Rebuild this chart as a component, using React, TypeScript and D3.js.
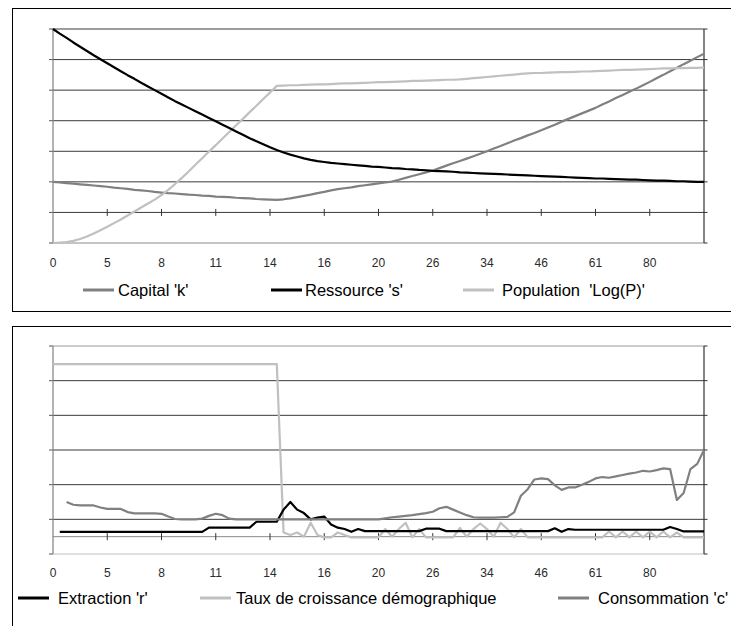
import * as d3 from "d3";

// category labels shown every 8th step (97 steps, 0..96)
const xLabels = ["0", "5", "8", "11", "14", "16", "20", "26", "34", "46", "61", "80"];
const steps = 96;
const labelEvery = 8;

// ── top chart (grid units) ──────────────────────────────────────────────
const capital = [
  1.00, 0.98, 0.96, 0.94, 0.92, 0.90, 0.88, 0.86, 0.84, 0.81,
  0.79, 0.77, 0.74, 0.72, 0.70, 0.67, 0.65, 0.63, 0.62, 0.60,
  0.58, 0.57, 0.55, 0.54, 0.52, 0.51, 0.50, 0.48, 0.47, 0.46,
  0.44, 0.43, 0.42, 0.41, 0.43, 0.46, 0.50, 0.54, 0.58, 0.63,
  0.67, 0.72, 0.76, 0.79, 0.82, 0.86, 0.89, 0.92, 0.95, 0.98,
  1.01, 1.07, 1.13, 1.19, 1.25, 1.31, 1.37, 1.45, 1.53, 1.61,
  1.68, 1.76, 1.84, 1.92, 2.00, 2.09, 2.17, 2.26, 2.35, 2.43,
  2.52, 2.60, 2.69, 2.78, 2.87, 2.97, 3.06, 3.15, 3.24, 3.33,
  3.42, 3.53, 3.63, 3.74, 3.84, 3.95, 4.05, 4.16, 4.27, 4.39,
  4.50, 4.62, 4.73, 4.85, 4.96, 5.08, 5.19,
];
const ressource = [
  6.00, 5.85, 5.71, 5.56, 5.42, 5.28, 5.14, 5.01, 4.88, 4.75,
  4.62, 4.49, 4.37, 4.24, 4.12, 4.00, 3.88, 3.76, 3.64, 3.53,
  3.42, 3.31, 3.20, 3.09, 2.98, 2.87, 2.76, 2.65, 2.54, 2.43,
  2.33, 2.23, 2.13, 2.04, 1.96, 1.89, 1.83, 1.77, 1.72, 1.68,
  1.65, 1.62, 1.60, 1.58, 1.56, 1.54, 1.52, 1.50, 1.49, 1.47,
  1.45, 1.44, 1.42, 1.41, 1.39, 1.38, 1.36, 1.35, 1.34, 1.33,
  1.31, 1.30, 1.29, 1.28, 1.27, 1.26, 1.25, 1.24, 1.23, 1.22,
  1.21, 1.20, 1.19, 1.18, 1.17, 1.16, 1.15, 1.14, 1.13, 1.12,
  1.11, 1.11, 1.10, 1.09, 1.08, 1.07, 1.07, 1.06, 1.05, 1.04,
  1.04, 1.03, 1.02, 1.02, 1.01, 1.00, 1.00,
];
const population = [
  -1.00, -0.99, -0.97, -0.93, -0.87, -0.79, -0.69, -0.58, -0.47, -0.35,
  -0.23, -0.10, 0.03, 0.16, 0.29, 0.42, 0.57, 0.74, 0.93, 1.13,
  1.34, 1.56, 1.77, 1.99, 2.20, 2.42, 2.63, 2.85, 3.06, 3.28,
  3.49, 3.71, 3.92, 4.14, 4.15, 4.16, 4.16, 4.17, 4.18, 4.19,
  4.19, 4.20, 4.21, 4.22, 4.22, 4.23, 4.24, 4.25, 4.26, 4.26,
  4.27, 4.28, 4.29, 4.30, 4.30, 4.31, 4.32, 4.33, 4.34, 4.34,
  4.35, 4.37, 4.39, 4.41, 4.43, 4.45, 4.47, 4.49, 4.51, 4.53,
  4.55, 4.56, 4.56, 4.57, 4.58, 4.59, 4.59, 4.60, 4.61, 4.61,
  4.62, 4.63, 4.64, 4.65, 4.66, 4.66, 4.67, 4.68, 4.69, 4.70,
  4.71, 4.71, 4.72, 4.72, 4.73, 4.73, 4.74,
];

// ── bottom chart (grid units) ───────────────────────────────────────────
const extraction: (number | null)[] = [
  null,
  0.64, 0.64, 0.64, 0.64, 0.64, 0.64, 0.64, 0.64, 0.64, 0.64, 0.64,
  0.64, 0.64, 0.64, 0.64, 0.64, 0.64, 0.64, 0.64, 0.64, 0.64, 0.64,
  0.76, 0.76, 0.76, 0.76, 0.76, 0.76, 0.76,
  0.93, 0.93, 0.93, 0.93,
  1.28, 1.50, 1.28, 1.18, 1.00, 1.05, 1.08, 0.85, 0.76, 0.72, 0.64, 0.72, 0.66,
  0.66, 0.66, 0.66, 0.66, 0.66, 0.66, 0.66, 0.66,
  0.73, 0.73, 0.73,
  0.66, 0.66, 0.66, 0.66, 0.66, 0.66, 0.66, 0.66,
  0.66, 0.66, 0.66, 0.66, 0.66, 0.66, 0.66, 0.66,
  0.74, 0.64, 0.72,
  0.70, 0.70, 0.70, 0.70, 0.70, 0.70, 0.70, 0.70, 0.70, 0.70, 0.70, 0.70, 0.70, 0.70,
  0.78, 0.72,
  0.65, 0.65, 0.65, 0.65,
];
const taux: (number | null)[] = [
  5.48, 5.48, 5.48, 5.48, 5.48, 5.48, 5.48, 5.48, 5.48, 5.48,
  5.48, 5.48, 5.48, 5.48, 5.48, 5.48, 5.48, 5.48, 5.48, 5.48,
  5.48, 5.48, 5.48, 5.48, 5.48, 5.48, 5.48, 5.48, 5.48, 5.48,
  5.48, 5.48, 5.48, 5.48,
  0.62, 0.55, 0.62, 0.50, 0.90, 0.55, 0.48, 0.48, 0.62, 0.55, 0.48, 0.48, 0.48, 0.48, 0.48,
  0.72, 0.50, 0.72, 0.90, 0.48, 0.72, 0.48, 0.48, 0.48, 0.48, 0.48,
  0.75, 0.50, 0.72, 0.88, 0.72, 0.50, 0.90, 0.72, 0.48, 0.72,
  0.48, 0.48, 0.48, 0.48, 0.48, 0.48, 0.48, 0.48, 0.48, 0.48, 0.48, 0.48,
  0.65, 0.48, 0.65, 0.48, 0.65, 0.48, 0.65, 0.48, 0.65, 0.48, 0.62, 0.48,
  0.48, 0.48, 0.48,
];
const consommation: (number | null)[] = [
  null, null,
  1.50, 1.42, 1.40, 1.40, 1.40, 1.34, 1.30, 1.30, 1.30,
  1.21, 1.17, 1.17, 1.17, 1.17, 1.16, 1.08, 1.01,
  1.00, 1.00, 1.00, 1.02,
  1.10, 1.16, 1.12, 1.02,
  1.00, 1.00, 1.00, 1.00, 1.00, 1.00, 1.00, 1.00, 1.00, 1.00, 1.00,
  1.00, 1.00, 1.00, 1.00, 1.00, 1.00, 1.00, 1.00, 1.00, 1.00, 1.00,
  1.03, 1.06, 1.08, 1.10, 1.12, 1.15, 1.18, 1.22, 1.32, 1.36,
  1.28, 1.20, 1.12, 1.06, 1.05, 1.05, 1.05, 1.06, 1.07,
  1.20, 1.68, 1.87, 2.15, 2.18, 2.16, 1.98, 1.85, 1.92, 1.92, 2.00, 2.08,
  2.18, 2.22, 2.20, 2.24, 2.28, 2.32, 2.35, 2.40, 2.38, 2.42, 2.47,
  2.45, 1.56, 1.76, 2.45, 2.60, 3.00,
];

const FONT = "'Liberation Sans', Arial, sans-serif";

type Series = { name: string; values: (number | null)[]; color: string; legendX: number; textX: number };

type ChartProps = {
  top: number;
  bottom: number;
  domain: [number, number];
  cross: number;
  series: Series[];
  drawOrder: number[];
  labelY: number;
  legendY: number;
  gridColor: (v: number) => string;
  axisLine: boolean;
};

function Chart({ top, bottom, domain, cross, series, drawOrder, labelY, legendY, gridColor, axisLine }: ChartProps) {
  const x = d3.scaleLinear().domain([0, steps]).range([53, 704]);
  const y = d3.scaleLinear().domain(domain).range([bottom, top]);
  const grid = d3.range(domain[0], domain[1] + 1);
  const tickIdx = d3.range(labelEvery, steps, labelEvery);
  const line = d3
    .line<number | null>()
    .defined((d) => d != null)
    .x((_, i) => x(i))
    .y((d) => y(d as number));
  const yc = y(cross);

  return (
    <g>
      {grid.map((v) => (
        <g key={v}>
          <line x1={x(0)} x2={x(steps)} y1={y(v)} y2={y(v)} stroke={gridColor(v)} strokeWidth={1} />
          <line x1={x(0) - 4} x2={x(0)} y1={y(v)} y2={y(v)} stroke="#555" strokeWidth={1} />
          <line x1={x(steps)} x2={x(steps) + 3.5} y1={y(v)} y2={y(v)} stroke="#333" strokeWidth={1} />
        </g>
      ))}
      {axisLine && <line x1={x(0)} x2={x(steps)} y1={yc} y2={yc} stroke="#8a8a8a" strokeWidth={1} />}
      <line x1={x(0)} x2={x(0)} y1={top} y2={bottom} stroke="#808080" strokeWidth={1.2} />
      <line x1={x(steps)} x2={x(steps)} y1={top} y2={bottom} stroke="#333" strokeWidth={1.2} />
      {tickIdx.map((i) => (
        <line key={i} x1={x(i)} x2={x(i)} y1={yc - 3.5} y2={yc + 3.5} stroke="#333" strokeWidth={1} />
      ))}
      {drawOrder.map((k) => (
        <path
          key={series[k].name}
          d={line(series[k].values) ?? ""}
          fill="none"
          stroke={series[k].color}
          strokeWidth={2.2}
          strokeLinejoin="round"
        />
      ))}
      {xLabels.map((l, k) => (
        <text key={l} x={x(k * labelEvery)} y={labelY} textAnchor="middle" fontSize={12} fill="#2a2a2a" fontFamily={FONT}>
          {l}
        </text>
      ))}
      {series.map((s) => (
        <g key={s.name}>
          <line x1={s.legendX} x2={s.legendX + 31} y1={legendY} y2={legendY} stroke={s.color} strokeWidth={3} />
          <text x={s.textX} y={legendY + 6} fontSize={16.5} fill="#000" fontFamily={FONT} style={{ whiteSpace: "pre" }}>
            {s.name}
          </text>
        </g>
      ))}
    </g>
  );
}

export default function App() {
  const topSeries: Series[] = [
    { name: "Capital 'k'", values: capital, color: "#808080", legendX: 83, textX: 118 },
    { name: "Ressource 's'", values: ressource, color: "#000000", legendX: 271, textX: 305 },
    { name: "Population  'Log(P)'", values: population, color: "#c0c0c0", legendX: 463, textX: 502 },
  ];
  const bottomSeries: Series[] = [
    { name: "Extraction 'r'", values: extraction, color: "#000000", legendX: 18, textX: 58 },
    { name: "Taux de croissance démographique", values: taux, color: "#c0c0c0", legendX: 200, textX: 236 },
    { name: "Consommation 'c'", values: consommation, color: "#808080", legendX: 558, textX: 598 },
  ];

  return (
    <svg
      width={731}
      height={626}
      style={{ position: "absolute", left: 0, top: 0, display: "block", background: "#fff" }}
    >
      <rect x={12.5} y={8.5} width={740} height={303} fill="none" stroke="#000" strokeWidth={1} />
      <rect x={12.5} y={326.5} width={740} height={320} fill="none" stroke="#000" strokeWidth={1} />
      <Chart
        top={29}
        bottom={243}
        domain={[-1, 6]}
        cross={0}
        series={topSeries}
        drawOrder={[0, 2, 1]}
        labelY={267}
        legendY={290}
        gridColor={(v) => (v === -1 ? "#8a8a8a" : "#3a3a3a")}
        axisLine={false}
      />
      <Chart
        top={346}
        bottom={554}
        domain={[0, 6]}
        cross={0.5}
        series={bottomSeries}
        drawOrder={[1, 0, 2]}
        labelY={577}
        legendY={598}
        gridColor={(v) => (v === 0 ? "#c0c0c0" : v === 6 ? "#999" : "#3a3a3a")}
        axisLine={true}
      />
    </svg>
  );
}
